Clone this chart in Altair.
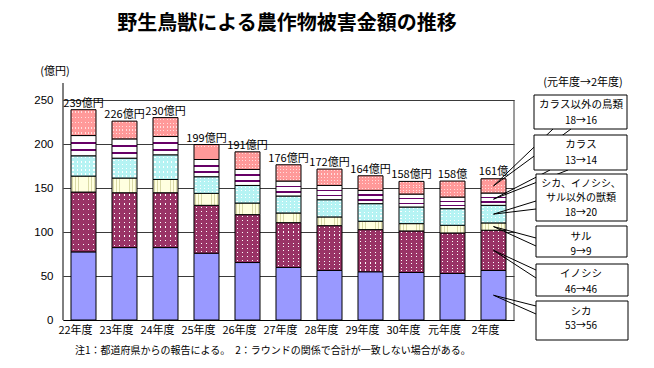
import altair as alt
import pandas as pd

# ---------------- data ----------------
years = ["22年度", "23年度", "24年度", "25年度", "26年度", "27年度",
         "28年度", "29年度", "30年度", "元年度", "2年度"]
shika = [77.4, 82.3, 82.3, 75.9, 65.3, 59.7, 56.3, 54.8, 54.0, 52.9, 56.3]
inoshishi = [68.0, 62.3, 62.3, 54.4, 54.4, 50.9, 50.9, 47.9, 47.2, 46.0, 45.7]
saru = [18.1, 16.7, 15.1, 13.6, 13.2, 11.0, 9.9, 9.5, 8.3, 8.7, 8.3]
other_beasts = [23.1, 22.6, 28.0, 18.9, 20.0, 19.3, 19.6, 20.0, 18.9, 18.9, 20.0]
karasu = [23.0, 21.9, 20.8, 19.6, 18.2, 17.0, 16.2, 15.1, 14.7, 13.2, 14.0]
other_birds = [29.4, 20.2, 21.5, 17.0, 20.0, 18.5, 18.6, 16.6, 14.4, 18.2, 16.2]
totals = [239, 226, 230, 199, 191, 176, 172, 164, 158, 158, 161]
total_labels = ["239億円", "226億円", "230億円", "199億円", "191億円", "176億円",
                "172億円", "164億円", "158億円", "158億", "161億"]

cat_keys = ["shika", "ino", "saru", "beast", "karasu", "bird"]
series = [shika, inoshishi, saru, other_beasts, karasu, other_birds]

legend_names = [["カラス以外の鳥類"], ["カラス"], ["シカ、イノシシ、", "サル以外の獣類"],
                ["サル"], ["イノシシ"], ["シカ"]]
legend_values = ["18→16", "13→14", "18→20", "9→9", "46→46", "53→56"]

title_text = "野生鳥獣による農作物被害金額の推移"
unit_text = "(億円)"
header_text = "(元年度→2年度)"
note_text = "注1：都道府県からの報告による。　2：ラウンドの関係で合計が一致しない場合がある。"

rows = []
for i, yv in enumerate(years):
    for k, (key, vals) in enumerate(zip(cat_keys, series)):
        rows.append({"year": yv, "cat": key, "order": k, "value": vals[i]})
df = pd.DataFrame(rows)
tdf = pd.DataFrame({"year": years, "total": totals, "label": total_labels})
one = pd.DataFrame({"a": [0]})

# ---------------- styling ----------------
JP = "Noto Sans CJK JP"
W, H = 451, 220

xaxis = alt.Axis(title=None, labelAngle=0, ticks=False, domain=True, domainColor="black",
                 labelFontSize=11, labelFont=JP, labelColor="black", labelPadding=4,
                 labelOffset=-8, grid=False)
yaxis = alt.Axis(title=None, values=[0, 50, 100, 150, 200, 250], grid=True,
                 gridColor="#3a3a3a", gridWidth=1, domain=False, ticks=False,
                 labelFontSize=11.5, labelFont="Liberation Sans", labelColor="black",
                 labelPadding=10)
xscale = alt.Scale(paddingInner=0.39, paddingOuter=0.195)
yscale = alt.Scale(domain=[0, 250], nice=False, zero=True)


def X():
    return alt.X("year:N", sort=years, scale=xscale, axis=xaxis)


def Y(field):
    return alt.Y(field, scale=yscale, axis=yaxis)


def stripes(base, line, n, frac, horizontal_bands, offset=0.5):
    stops = []
    for i in range(n):
        a = (i + offset - frac / 2) / n
        b = (i + offset + frac / 2) / n
        stops += [(i / n, base), (a, base), (a, line), (b, line), (b, base), ((i + 1) / n, base)]
    gs = [alt.GradientStop(offset=round(o, 4), color=c) for o, c in stops]
    if horizontal_bands:
        return alt.LinearGradient(gradient="linear", stops=gs, x1=0, y1=0, x2=0, y2=1)
    return alt.LinearGradient(gradient="linear", stops=gs, x1=0, y1=0, x2=1, y2=0)


def custom_bands(base, line, centers, frac):
    stops = [(0, base)]
    for c in centers:
        stops += [(c - frac / 2, base), (c - frac / 2, line), (c + frac / 2, line), (c + frac / 2, base)]
    stops.append((1, base))
    gs = [alt.GradientStop(offset=round(o, 4), color=c) for o, c in stops]
    return alt.LinearGradient(gradient="linear", stops=gs, x1=0, y1=0, x2=0, y2=1)


stacked = alt.Chart(df).transform_stack(
    stack="value", groupby=["year"], as_=["y0", "y1"],
    sort=[alt.SortField("order", "ascending")]
)


def seg(key, fill, stroke=True):
    kw = dict(fill=fill)
    if stroke:
        kw.update(stroke="black", strokeWidth=1)
    else:
        kw.update(strokeWidth=0)
    return stacked.transform_filter(alt.datum.cat == key).mark_bar(**kw).encode(
        x=X(), y=Y("y0:Q"), y2="y1:Q")


layers = []
# シカ
layers.append(seg("shika", "#9999ff"))
# イノシシ : purple with white dots
layers.append(seg("ino", stripes("#993366", "#ffffff", 12, 0.3, True), stroke=False))
layers.append(seg("ino", stripes("#993366", "transparent", 5, 0.3, False)))
# サル : cream with vertical lines
layers.append(seg("saru", stripes("#ffffe0", "#d9d9a6", 8, 0.25, False)))
# other beasts : light cyan with white dots
layers.append(seg("beast", stripes("#b5f3f3", "#ffffff", 5, 0.3, True), stroke=False))
layers.append(seg("beast", stripes("#b5f3f3", "transparent", 6, 0.3, False)))
# カラス : white with purple horizontal lines
layers.append(seg("karasu", custom_bands("#ffffff", "#660066", [0.36, 0.72], 0.1)))
# other birds : pink with light dots
layers.append(seg("bird", stripes("#ff9999", "#ffdede", 5, 0.32, True), stroke=False))
layers.append(seg("bird", stripes("#ff9999", "transparent", 8, 0.35, False)))

# total labels
layers.append(alt.Chart(tdf).mark_text(baseline="bottom", dy=-1, fontSize=11, font=JP,
                                       color="black").encode(
    x=X(), y=Y("total:Q"), text="label:N"))

# frame lines
layers.append(alt.Chart(one).mark_rule(color="black", strokeWidth=1).encode(
    x=alt.value(0), y=alt.value(-17), y2=alt.value(H)))
layers.append(alt.Chart(one).mark_rule(color="#3a3a3a", strokeWidth=1).encode(
    x=alt.value(W), y=alt.value(0), y2=alt.value(H)))

# callout lines (tip at 2年度 segment middle -> legend box)
callout_ends = {
    "bird": [(490, 29), (508, 29)],
    "karasu": [(487, 70), (505, 70)],
    "beast": [(473, 101), (473, 109)],
    "saru": [(473, 138), (473, 146)],
    "ino": [(473, 170), (473, 178)],
    "shika": [(473, 206), (473, 214)],
}
for key, ends in callout_ends.items():
    for (ex, ey) in ends:
        layers.append(
            stacked.transform_filter((alt.datum.year == "2年度") & (alt.datum.cat == key))
            .transform_calculate(mid="(datum.y0 + datum.y1) / 2")
            .mark_rule(color="black", strokeWidth=1)
            .encode(x=X(), y=Y("mid:Q"), x2=alt.value(ex), y2=alt.value(ey))
        )

# legend boxes
box_pos = [  # x, x2, y, y2
    (471, 564, -5, 29),
    (471, 564, 35, 70),
    (473, 564, 74, 121),
    (473, 564, 126, 157),
    (473, 565, 164, 196),
    (473, 565, 201, 240),
]
name_y = [[5], [45], [83.5], [136.5], [174.3], [211.7]]
name_y[2] = [83.5, 98]
val_y = [20.7, 60.7, 112.5, 151.7, 190, 226]
name_fs = [10.5, 10.5, 10, 10.5, 10.5, 10.5]
BOX_CX = 518
for i in range(6):
    x1, x2, y1, y2 = box_pos[i]
    layers.append(alt.Chart(one).mark_rect(fill="white", stroke="black", strokeWidth=1).encode(
        x=alt.value(x1), x2=alt.value(x2), y=alt.value(y1), y2=alt.value(y2)))
    for line, ly in zip(legend_names[i], name_y[i]):
        ld = pd.DataFrame({"t": [line]})
        layers.append(alt.Chart(ld).mark_text(fontSize=name_fs[i], font=JP, color="black",
                                              baseline="middle").encode(
            x=alt.value(BOX_CX), y=alt.value(ly), text="t:N"))
    vd = pd.DataFrame({"t": [legend_values[i]]})
    layers.append(alt.Chart(vd).mark_text(fontSize=10, font=JP, color="black",
                                          baseline="middle").encode(
        x=alt.value(BOX_CX), y=alt.value(val_y[i]), text="t:N"))

# texts
tx = pd.DataFrame({"t": [title_text], "u": [unit_text], "h": [header_text], "n": [note_text]})
layers.append(alt.Chart(tx).mark_text(fontSize=20, fontWeight="bold", font=JP, color="black",
                                      baseline="middle").encode(
    x=alt.value(224), y=alt.value(-76), text="t:N"))
layers.append(alt.Chart(tx).mark_text(fontSize=11, font=JP, color="black",
                                      baseline="middle").encode(
    x=alt.value(-8), y=alt.value(-28), text="u:N"))
layers.append(alt.Chart(tx).mark_text(fontSize=11, font=JP, color="black",
                                      baseline="middle").encode(
    x=alt.value(520), y=alt.value(-17), text="h:N"))
layers.append(alt.Chart(tx).mark_text(fontSize=10, font=JP, color="black",
                                      baseline="middle", align="left").encode(
    x=alt.value(12), y=alt.value(251), text="n:N"))

chart = alt.layer(*layers).properties(
    width=W, height=H,
    autosize=alt.AutoSizeParams(type="none"),
    padding={"left": 55, "top": 92, "right": 132, "bottom": 36},
    background="white",
).configure_view(stroke=None)

chart.save("out.html", embed_options={"renderer": "svg", "actions": False})
